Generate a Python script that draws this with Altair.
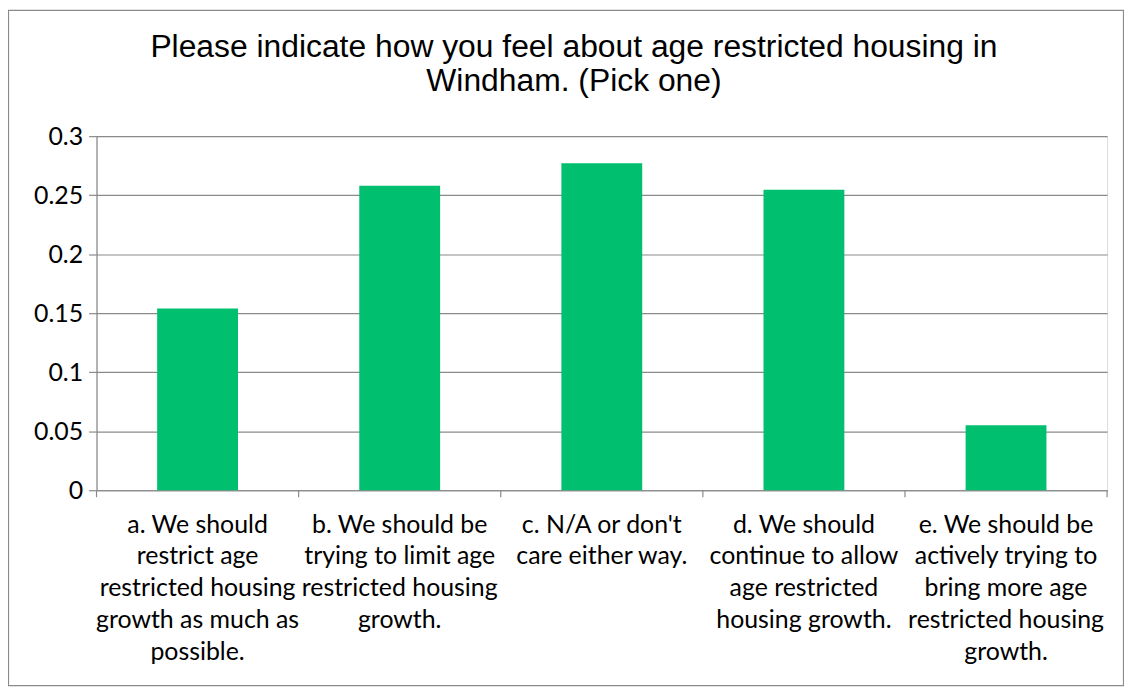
import altair as alt
import pandas as pd

title_lines = ["Please indicate how you feel about age restricted housing in", "Windham. (Pick one)"]

category_lines = [
    ["a. We should", "restrict age", "restricted housing", "growth as much as", "possible."],
    ["b. We should be", "trying to limit age", "restricted housing", "growth."],
    ["c. N/A or don't", "care either way."],
    ["d. We should", "continue to allow", "age restricted", "housing growth."],
    ["e. We should be", "actively trying to", "bring more age", "restricted housing", "growth."],
]
values = [0.154, 0.258, 0.277, 0.2545, 0.055]
y_ticks = [0, 0.05, 0.1, 0.15, 0.2, 0.25, 0.3]

categories = ["\n".join(l) for l in category_lines]
df = pd.DataFrame({"cat": categories, "value": values})

W, H = 1016, 356
PAD_L, PAD_T, PAD_R, PAD_B = 89, 127, 17, 197
GRID = "#8a8a8a"
LABEL_FONT = "Lato"
STEP = W / len(categories)

x_scale = alt.Scale(domain=categories, paddingInner=0.6, paddingOuter=0.3)

bars = alt.Chart(df).mark_bar(color="#00BF6F").encode(
    x=alt.X("cat:N", sort=categories, scale=x_scale,
            axis=alt.Axis(title=None, labelAngle=0, ticks=False,
                          labelExpr="split(datum.label, '\\n')",
                          labelFont=LABEL_FONT, labelFontSize=25, labelColor="black",
                          labelLineHeight=32, labelPadding=22, labelLimit=0,
                          domainColor=GRID, domainWidth=1.2)),
    y=alt.Y("value:Q", scale=alt.Scale(domain=[0, 0.3], nice=False),
            axis=alt.Axis(title=None, values=y_ticks, format="~g",
                          labelFont=LABEL_FONT, labelFontSize=25, labelColor="black",
                          labelPadding=6, tickSize=8, tickColor=GRID, tickWidth=1.2,
                          gridColor=GRID, gridWidth=1.2,
                          domainColor=GRID, domainWidth=1.2)),
)

ticks = alt.Chart(df).mark_rule(color=GRID, strokeWidth=1.2, xOffset=-0.3 * STEP).encode(
    x=alt.X("cat:N", sort=categories, scale=x_scale, bandPosition=0),
    y=alt.value(H),
    y2=alt.value(H + 7),
)

end_tick = alt.Chart(df.head(1)).mark_rule(color=GRID, strokeWidth=1.2).encode(
    x=alt.value(W),
    y=alt.value(H),
    y2=alt.value(H + 7),
)

frame = alt.Chart(df.head(1)).mark_rect(filled=False, stroke=GRID, strokeWidth=1.2).encode(
    x=alt.value(-PAD_L + 0.5),
    x2=alt.value(W + PAD_R - 0.5),
    y=alt.value(-PAD_T + 0.5),
    y2=alt.value(H + PAD_B - 0.5),
)

chart = alt.layer(bars, ticks, end_tick, frame).properties(
    width=W, height=H,
    title=alt.TitleParams(text=title_lines, font="Liberation Sans", fontSize=32,
                          fontWeight="normal", color="black", anchor="middle",
                          frame="group", dx=-28, offset=-89, lineHeight=34),
    autosize=alt.AutoSizeParams(type="none"),
    padding={"left": PAD_L, "top": PAD_T, "right": PAD_R, "bottom": PAD_B},
).configure_view(stroke=None).configure(background="white")

chart.save("out.html", embed_options={"renderer": "svg", "actions": False})
